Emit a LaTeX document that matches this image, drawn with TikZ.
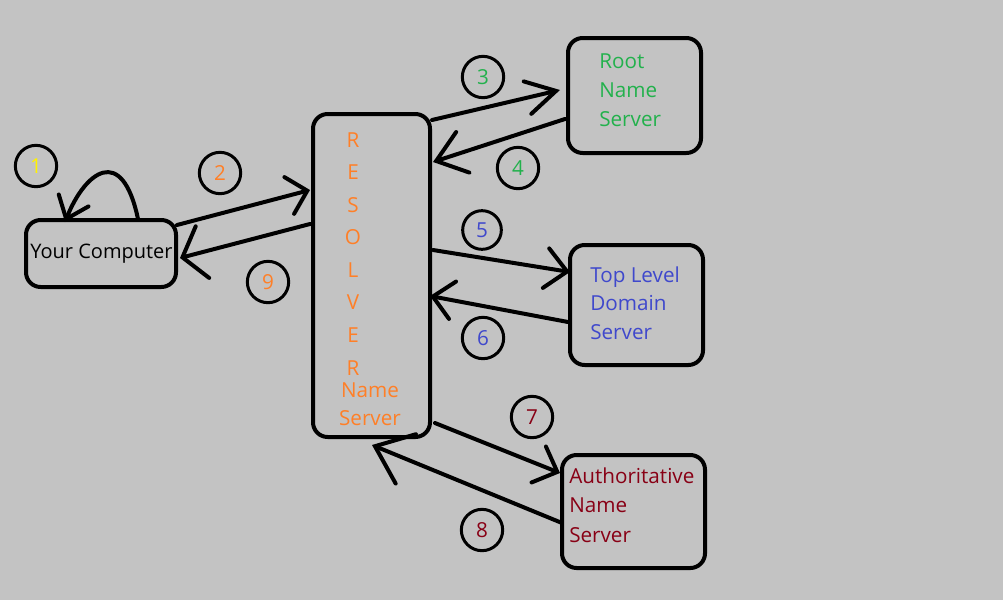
\documentclass[tikz,border=0pt]{standalone}
\usepackage{fontspec}
\setmainfont{Open Sans}
\usetikzlibrary{arrows.meta}
\definecolor{bg}{HTML}{C3C3C3}
\definecolor{orng}{HTML}{FF7F27}
\definecolor{grn}{HTML}{22B14C}
\definecolor{blu}{HTML}{3F48CC}
\definecolor{dred}{HTML}{880015}
\definecolor{yel}{HTML}{FFF200}
\begin{document}
\begin{tikzpicture}[x=0.75pt,y=-0.75pt,
  box/.style={draw=black, line width=3pt, rounded corners=11pt, inner sep=0pt},
  num/.style={circle, draw=black, line width=2.25pt, minimum size=31pt, inner sep=0pt, font=\fontsize{15.5}{18}\selectfont},
  lbl/.style={anchor=base west, inner sep=0pt, font=\fontsize{15.5}{18}\selectfont},
  clbl/.style={anchor=base, inner sep=0pt, font=\fontsize{15.5}{18}\selectfont},
  conn/.style n args={2}{line width=3pt, line cap=round, -{Straight Barb[length=#1,width=#2,line cap=round]}},
]
\fill[bg] (0,0) rectangle (1003,600);
\useasboundingbox (0,0) rectangle (1003,600);

% boxes
\node[box, minimum width=112.5pt, minimum height=50.25pt] (comp) at (101,253.5) {};
\node[box, minimum width=87.75pt, minimum height=242.25pt] (res) at (371.5,275.5) {};
\node[box, minimum width=99.75pt, minimum height=86.25pt] (root) at (634.5,95.5) {};
\node[box, minimum width=99.75pt, minimum height=90pt] (tld) at (636.5,305) {};
\node[box, minimum width=107.25pt, minimum height=84.75pt] (auth) at (633.5,511.5) {};

% labels
\node[clbl, font=\fontsize{15}{18}\selectfont] (compl) at (101.5,258) {Your Computer};
\foreach \ch/\yy [count=\i] in {R/147,E/179,S/212,O/244,L/277,V/309,E/342,R/375}
  \node[clbl, text=orng] (resl\i) at (353,\yy) {\ch};
\node[clbl, text=orng] (resn1) at (370,397) {Name};
\node[clbl, text=orng] (resn2) at (370,425) {Server};
\node[lbl, text=grn] (rootl1) at (599,68) {Root};
\node[lbl, text=grn] (rootl2) at (599,97) {Name};
\node[lbl, text=grn] (rootl3) at (599,126) {Server};
\node[lbl, text=blu] (tldl1) at (590,282) {Top Level};
\node[lbl, text=blu] (tldl2) at (590,310) {Domain};
\node[lbl, text=blu] (tldl3) at (590,339) {Server};
\node[lbl, text=dred] (authl1) at (569,483) {Authoritative};
\node[lbl, text=dred] (authl2) at (569,512) {Name};
\node[lbl, text=dred] (authl3) at (569,542) {Server};

% step numbers
\node[num, text=yel] (n1) at (36,166) {1};
\node[num, text=orng] (n2) at (220,173) {2};
\node[num, text=grn] (n3) at (483,77) {3};
\node[num, text=grn] (n4) at (518,168) {4};
\node[num, text=blu, minimum size=29pt] (n5) at (482,230) {5};
\node[num, text=blu] (n6) at (483,338) {6};
\node[num, text=dred] (n7) at (532,417) {7};
\node[num, text=dred] (n8) at (482,530) {8};
\node[num, text=orng] (n9) at (268,282) {9};

% connector end points
\coordinate (loopS) at (138,219);
\coordinate (loopE) at (65,222);
\coordinate (c2a) at (177,225);
\coordinate (c2b) at (310,190);
\coordinate (c9a) at (310,224);
\coordinate (c9b) at (180,258);
\coordinate (c3a) at (432,120);
\coordinate (c3b) at (560,90);
\coordinate (c4a) at (565,119);
\coordinate (c4b) at (433,162);
\coordinate (c5a) at (433,250);
\coordinate (c5b) at (570,272);
\coordinate (c6a) at (568,322);
\coordinate (c6b) at (430,296);
\coordinate (c7a) at (435,423);
\coordinate (c7b) at (560,473);
\coordinate (c8a) at (562,523);
\coordinate (c8b) at (372,445);

% connectors
\draw[conn={15pt}{24pt}] (loopS) .. controls (122,143) and (85,172) .. (loopE);
\draw[conn={14pt}{28.5pt}] (c2a) -- (c2b);
\draw[conn={15.5pt}{40pt}] (c9a) -- (c9b);
\draw[conn={22pt}{25pt}] (c3a) -- (c3b);
\draw[conn={21pt}{32pt}] (c4a) -- (c4b);
\draw[conn={16pt}{30pt}] (c5a) -- (c5b);
\draw[conn={15pt}{28.5pt}] (c6a) -- (c6b);
\draw[conn={15pt}{29pt}] (c7a) -- (c7b);
\draw[conn={25pt}{40pt}] (c8a) -- (c8b);
\end{tikzpicture}
\end{document}
